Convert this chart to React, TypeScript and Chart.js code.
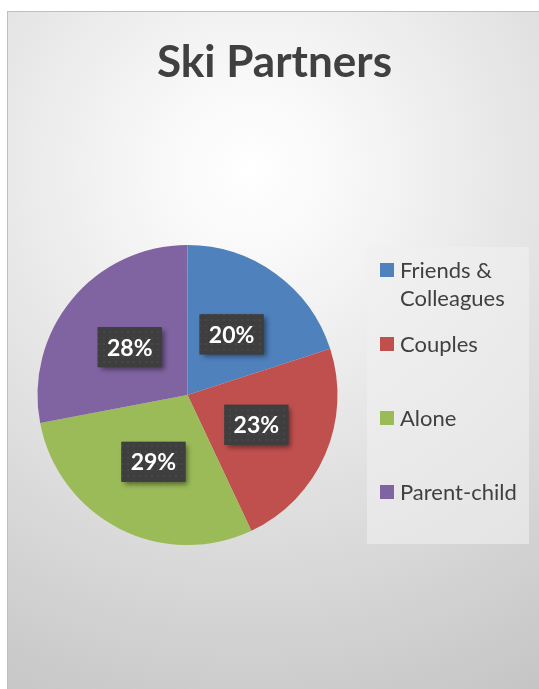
import React, { useEffect, useRef } from "react";
import { Chart, registerables } from "chart.js";

Chart.register(...registerables);

const titleText = "Ski Partners";
const categories = ["Friends & Colleagues", "Couples", "Alone", "Parent-child"];
const shares = [20, 23, 29, 28];
const sliceColors = ["#4f81bd", "#c0504d", "#9bbb59", "#8064a2"];

const TEXT_COLOR = "#404040";

function makePattern(ctx: CanvasRenderingContext2D) {
  const c = document.createElement("canvas");
  c.width = 6;
  c.height = 6;
  const p = c.getContext("2d")!;
  p.fillStyle = "#3e3e3e";
  p.fillRect(0, 0, 6, 6);
  p.fillStyle = "#474747";
  p.fillRect(1, 1, 2, 2);
  return ctx.createPattern(c, "repeat");
}

function wrap(ctx: CanvasRenderingContext2D, text: string, maxW: number) {
  const words = text.split(" ");
  const lines: string[] = [];
  let cur = "";
  for (const w of words) {
    const t = cur ? cur + " " + w : w;
    if (ctx.measureText(t).width > maxW && cur) {
      lines.push(cur);
      cur = w;
    } else cur = t;
  }
  if (cur) lines.push(cur);
  return lines;
}

const decorPlugin = {
  id: "decor",
  beforeDraw(chart: any) {
    const ctx: CanvasRenderingContext2D = chart.ctx;
    const W = chart.width;
    const H = chart.height;
    ctx.save();
    ctx.fillStyle = "#ffffff";
    ctx.fillRect(0, 0, W, H);
    const g = ctx.createRadialGradient(250, 170, 0, 250, 170, 620);
    g.addColorStop(0, "#ffffff");
    g.addColorStop(0.15, "#f8f8f8");
    g.addColorStop(1, "#c2c2c2");
    ctx.fillStyle = g;
    ctx.fillRect(7, 11, W - 7, H - 11);
    ctx.strokeStyle = "#bfbfbf";
    ctx.lineWidth = 1;
    ctx.strokeRect(7.5, 11.5, W, H);

    // title
    ctx.font = "bold 44px Lato";
    ctx.fillStyle = TEXT_COLOR;
    ctx.textBaseline = "alphabetic";
    ctx.textAlign = "center";
    const tw = ctx.measureText(titleText).width;
    const sx = 235 / tw;
    ctx.translate(274.5, 77);
    ctx.scale(sx, 1);
    ctx.fillText(titleText, 0, 0);
    ctx.restore();

    // legend
    ctx.save();
    ctx.fillStyle = "rgba(240,240,240,0.6)";
    ctx.fillRect(367, 247, 162, 297);
    ctx.font = "22px Lato";
    ctx.textAlign = "left";
    ctx.textBaseline = "alphabetic";
    categories.forEach((lab, i) => {
      const top = 263 + i * 74;
      ctx.fillStyle = sliceColors[i];
      ctx.fillRect(380, top, 14, 14);
      ctx.fillStyle = TEXT_COLOR;
      const lines = wrap(ctx, lab, 125);
      lines.forEach((ln, j) => {
        ctx.fillText(ln, 400, top + 15 + j * 28);
      });
    });
    ctx.restore();
  },
  afterDatasetsDraw(chart: any) {
    const ctx: CanvasRenderingContext2D = chart.ctx;
    const meta = chart.getDatasetMeta(0);
    const data: number[] = chart.data.datasets[0].data;
    const total = data.reduce((a, b) => a + b, 0);
    const pat = makePattern(ctx);
    meta.data.forEach((arc: any, i: number) => {
      const pos = arc.tooltipPosition();
      const w = 64;
      const h = 40;
      const x = pos.x - w / 2;
      const y = pos.y - h / 2;
      ctx.save();
      ctx.shadowColor = "rgba(0,0,0,0.45)";
      ctx.shadowBlur = 5;
      ctx.shadowOffsetX = 3;
      ctx.shadowOffsetY = 3;
      ctx.fillStyle = "#3f3f3f";
      ctx.fillRect(x, y, w, h);
      ctx.restore();
      ctx.save();
      ctx.fillStyle = pat || "#3f3f3f";
      ctx.fillRect(x, y, w, h);
      ctx.fillStyle = "#ffffff";
      ctx.font = "bold 23px Lato";
      ctx.textAlign = "center";
      ctx.textBaseline = "middle";
      ctx.fillText(Math.round((data[i] / total) * 100) + "%", pos.x, pos.y + 1);
      ctx.restore();
    });
  },
};

export default function App() {
  const ref = useRef<HTMLCanvasElement>(null);
  useEffect(() => {
    document.body.style.margin = "0";
    const chart = new Chart(ref.current!, {
      type: "pie",
      data: {
        labels: categories,
        datasets: [
          {
            data: shares,
            backgroundColor: sliceColors,
            borderWidth: 0,
          },
        ],
      },
      options: {
        animation: false,
        responsive: false,
        devicePixelRatio: 1,
        layout: { padding: { left: 37, top: 245, right: 201, bottom: 144 } },
        plugins: {
          legend: { display: false },
          title: { display: false },
          tooltip: { enabled: false },
        },
      },
      plugins: [decorPlugin],
    });
    return () => chart.destroy();
  }, []);
  return (
    <div style={{ width: 539, height: 689 }}>
      <canvas ref={ref} width={539} height={689} style={{ display: "block" }} />
    </div>
  );
}
